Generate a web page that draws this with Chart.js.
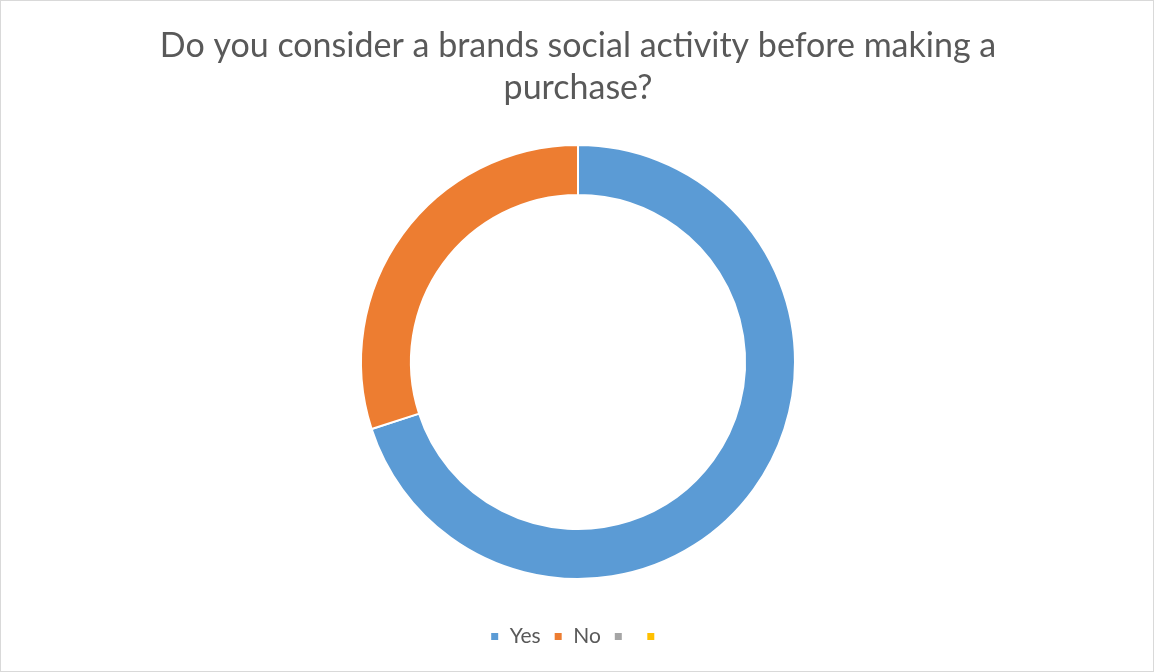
<!DOCTYPE html>
<html>
<head>
<meta charset="utf-8">
<script src="https://cdn.jsdelivr.net/npm/chart.js@4.4.1/dist/chart.umd.min.js"></script>
<style>
  html, body { margin: 0; padding: 0; background: #fff; }
  #wrap { width: 1152px; height: 670px; border: 1px solid #d9d9d9; }
</style>
</head>
<body>
<div id="wrap"><canvas id="chart" width="1152" height="670"></canvas></div>
<script>
const titleLines = ['Do you consider a brands social activity before making a', 'purchase?'];
const labels = ['Yes', 'No', '', ''];
const values = [70, 30, 0, 0];
const colors = ['#5B9BD5', '#ED7D31', '#A5A5A5', '#FFC000'];

const ctx = document.getElementById('chart');
const chart = new Chart(ctx, {
    type: 'doughnut',
    data: {
        labels: labels,
        datasets: [{
            data: values,
            backgroundColor: colors,
            borderColor: '#ffffff',
            borderWidth: 2,
            radius: 217,
            cutout: '77%'
        }]
    },
    options: {
        responsive: false,
        animation: false,
        layout: { padding: { left: 2, bottom: 14 } },
        plugins: {
            title: {
                display: true,
                text: titleLines,
                color: '#595959',
                font: { family: 'Lato', size: 34, weight: 'normal', lineHeight: 1.235 },
                padding: { top: 24, bottom: 2 }
            },
            legend: {
                position: 'bottom',
                labels: {
                    color: '#595959',
                    font: { family: 'Lato', size: 21 },
                    boxWidth: 9,
                    boxHeight: 9,
                    padding: 13
                }
            },
            tooltip: { enabled: false }
        }
    }
});
</script>
</body>
</html>
